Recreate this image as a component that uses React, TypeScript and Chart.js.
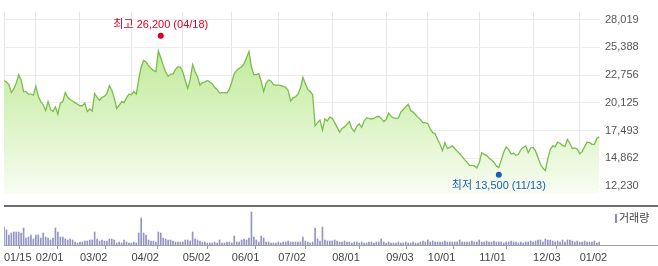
import React, { useEffect, useRef } from 'react';
import { Chart, registerables } from 'chart.js';

Chart.register(...registerables);

// Closing prices, one per trading day (2018-01-15 .. 2019-01-14)
const prices: number[] = [
  22250, 22100, 21850, 21100, 21450, 22000, 22800, 22300, 21200, 21200,
  20950, 20950, 20850, 21700, 20750, 20250, 19950, 19400, 20250, 19500,
  19300, 19750, 19050, 20100, 20250, 21100, 20650, 20450, 20300, 20150,
  20000, 19850, 19850, 20100, 19300, 19550, 19350, 21000, 20650, 20350,
  20650, 20750, 21000, 21750, 21350, 20600, 19600, 19900, 20250, 20150,
  20600, 20950, 20900, 21200, 20950, 22350, 23550, 24150, 24000, 23650,
  23400, 23200, 23100, 25050, 24400, 23700, 23050, 22650, 22850, 22850,
  23300, 23550, 23500, 23050, 22250, 21500, 22350, 23750, 23100, 22600,
  21800, 22050, 22100, 22250, 22100, 21950, 21600, 21400, 21050, 21100,
  21100, 21050, 21400, 22100, 22900, 23200, 23400, 23550, 23850, 24400,
  25000, 23550, 22800, 22800, 22900, 22150, 21200, 22000, 22300, 22200,
  21850, 21800, 21800, 21750, 21700, 21600, 21300, 20300, 20600, 20700,
  20950, 21500, 22550, 21950, 21400, 21200, 20900, 17950, 18250, 18500,
  17550, 18600, 18400, 18800, 18650, 18250, 17800, 17350, 17700, 17850,
  18100, 18350, 17700, 17400, 17900, 18150, 17800, 18400, 18700, 18650,
  18600, 18650, 18800, 18850, 18650, 18350, 18550, 19150, 18850, 18700,
  18650, 18700, 19250, 19500, 19750, 20000, 19400, 19250, 19000, 18750,
  18550, 18250, 18250, 18150, 17650, 17300, 17200, 16650, 16200, 15600,
  16350, 15800, 15900, 16050, 15800, 15550, 15300, 15050, 14750, 14500,
  14200, 14200, 14150, 13950, 14450, 15400, 15250, 15150, 14900, 14700,
  14500, 14150, 14000, 14700, 15450, 15950, 15700, 15300, 15350, 15150,
  15250, 15700, 15900, 16050, 15400, 15850, 15900, 15550, 14950, 14300,
  13950, 13700, 14850, 15700, 16050, 15950, 16400, 16300, 16100, 16000,
  16650, 16300, 15800, 15850, 15750, 15300, 15500, 15950, 16400, 16350,
  16200, 16200, 16750, 16900,
];

// Volume (thousand shares), one per trading day
const volumes: number[] = [
  900, 750, 500, 600, 650, 650, 650, 600, 850, 350,
  400, 500, 300, 500, 500, 350, 600, 400, 350, 250,
  350, 850, 650, 400, 400, 300, 250, 300, 250, 150,
  100, 150, 150, 200, 200, 250, 250, 650, 300, 200,
  250, 200, 200, 300, 300, 250, 100, 150, 100, 250,
  150, 100, 100, 150, 100, 600, 1350, 600, 500, 250,
  200, 200, 150, 650, 600, 350, 300, 250, 250, 200,
  150, 150, 150, 150, 250, 250, 200, 650, 300, 250,
  200, 150, 150, 100, 100, 100, 150, 100, 250, 100,
  100, 150, 150, 100, 450, 150, 150, 250, 300, 250,
  350, 1650, 400, 250, 150, 450, 350, 150, 150, 100,
  100, 100, 150, 100, 150, 150, 200, 150, 150, 150,
  150, 150, 400, 200, 150, 100, 150, 850, 300, 200,
  900, 250, 200,
  200, 200, 250, 200, 150, 150, 200, 150, 150, 100,
  150, 150, 100, 150, 100, 100, 150, 150, 100, 150,
  150, 300, 150, 100, 150, 100, 100, 100, 150, 100,
  100, 150, 100, 100, 150, 100, 100, 150, 200, 150,
  250, 150, 200, 150, 150, 150, 150, 200, 150, 150,
  150, 150, 150, 250, 150, 150, 150, 150, 200, 150,
  150, 250, 150, 150, 200, 150, 150, 200, 150, 150,
  150, 100, 150, 150, 200, 150, 150, 100, 150, 100,
  150, 150, 200, 150, 200, 250, 250, 150, 300, 250,
  250, 200, 150, 200, 150, 250, 150, 250, 250, 200,
  150, 200, 150, 150, 200, 150, 150, 150, 200, 100, 150,
];

// Month tick labels and the trading-day index they fall on
const tickLabels: string[] = ['01/15', '02/01', '03/02', '04/02', '05/02', '06/01', '07/02', '08/01', '09/03', '10/01', '11/01', '12/03', '01/02'];
const tickIndex: number[] = [0, 13, 31, 52, 73, 93, 112, 134, 156, 173, 194, 216, 235];

// Price axis tick values
const priceTicks: number[] = [12230, 14862, 17493, 20125, 22756, 25388, 28019];

const highMark = { index: 64, value: 26200, label: '최고 26,200 (04/18)' };
const lowMark = { index: 202, value: 13500, label: '최저 13,500 (11/13)' };

const FONT = '"Liberation Sans", "Noto Sans CJK KR", sans-serif';
const X_MAX = 243.3;

const markPlugin = {
  id: 'hiLoMarks',
  afterDatasetsDraw(chart: any) {
    const { ctx, scales } = chart;
    const xs = scales.x;
    const ys = scales.y;
    const draw = (m: any, color: string, dy: number, ty: number) => {
      const px = xs.getPixelForValue(m.index);
      const py = ys.getPixelForValue(m.value) + dy;
      ctx.save();
      ctx.fillStyle = color;
      ctx.beginPath();
      ctx.arc(px, py, 3, 0, Math.PI * 2);
      ctx.fill();
      ctx.font = `11px ${FONT}`;
      ctx.textAlign = 'center';
      ctx.textBaseline = 'middle';
      ctx.fillText(m.label, px, py + ty);
      ctx.restore();
    };
    draw(highMark, '#d7001e', -3, -11);
    draw(lowMark, '#1d5fb0', 2, 11);
  },
};

export default function App() {
  const priceRef = useRef<HTMLCanvasElement>(null);
  const volRef = useRef<HTMLCanvasElement>(null);

  useEffect(() => {
    const priceChart = new Chart(priceRef.current as HTMLCanvasElement, {
      type: 'line',
      data: {
        datasets: [
          {
            data: prices.map((v, i) => ({ x: i, y: v })),
            borderColor: '#79bd4b',
            borderWidth: 1.3,
            pointRadius: 0,
            tension: 0,
            fill: 'start',
            backgroundColor: (c: any) => {
              const area = c.chart.chartArea;
              if (!area) return '#d8f2c0';
              const g = c.chart.ctx.createLinearGradient(0, area.top, 0, area.bottom);
              g.addColorStop(0, '#b4e486');
              g.addColorStop(0.5, '#d5f1ba');
              g.addColorStop(1, '#f8fdf3');
              return g;
            },
          },
        ],
      },
      options: {
        animation: false,
        responsive: false,
        maintainAspectRatio: false,
        layout: { padding: { left: 4, right: 0, top: 0, bottom: 0 } },
        plugins: { legend: { display: false }, tooltip: { enabled: false } },
        scales: {
          x: {
            type: 'linear',
            min: 0,
            max: X_MAX,
            afterBuildTicks: (s: any) => {
              s.ticks = tickIndex.map((v) => ({ value: v }));
            },
            ticks: { display: false },
            grid: { color: '#e6e6e6', drawTicks: false },
            border: { display: false },
            afterFit: (s: any) => {
              s.height = 0;
            },
          },
          y: {
            position: 'right',
            min: 11450,
            max: 28776,
            afterBuildTicks: (s: any) => {
              s.ticks = priceTicks.map((v) => ({ value: v }));
            },
            ticks: {
              color: '#555',
              font: { size: 11, family: FONT },
              padding: 5,
              callback: (v: any) => Number(v).toLocaleString('en-US'),
            },
            grid: { color: '#ececec', drawTicks: false },
            border: { display: false },
            afterFit: (s: any) => {
              s.width = 58;
            },
          },
        },
      },
      plugins: [markPlugin],
    });

    const volChart = new Chart(volRef.current as HTMLCanvasElement, {
      type: 'bar',
      data: {
        datasets: [
          {
            data: volumes.map((v, i) => ({ x: i, y: v })),
            backgroundColor: '#9393c4',
            barThickness: 1,
          },
        ],
      },
      options: {
        animation: false,
        responsive: false,
        maintainAspectRatio: false,
        layout: { padding: { left: 4, right: 58, top: 0, bottom: 0 } },
        plugins: { legend: { display: false }, tooltip: { enabled: false } },
        scales: {
          x: {
            type: 'linear',
            min: 0,
            max: X_MAX,
            offset: false,
            afterBuildTicks: (s: any) => {
              s.ticks = tickIndex.map((v) => ({ value: v }));
            },
            ticks: {
              align: 'start',
              autoSkip: false,
              maxRotation: 0,
              color: '#444',
              font: { size: 11, family: FONT },
              padding: 2,
              callback: (_v: any, i: number) => tickLabels[i],
            },
            grid: { drawOnChartArea: false, drawTicks: true, tickLength: 4, color: '#999' },
            border: { display: false },
            afterFit: (s: any) => {
              s.height = 21;
            },
          },
          y: { display: false, min: 0, max: 1950 },
        },
      },
    });

    return () => {
      priceChart.destroy();
      volChart.destroy();
    };
  }, []);

  return (
    <div style={{ position: 'absolute', left: 0, top: 0, width: 658, height: 266, background: '#fff', overflow: 'hidden' }}>
      <canvas ref={priceRef} width={658} height={206} style={{ position: 'absolute', left: 0, top: 0, width: 658, height: 206 }} />
      <canvas ref={volRef} width={658} height={60} style={{ position: 'absolute', left: 0, top: 206, width: 658, height: 60 }} />
      <div style={{ position: 'absolute', left: 4, top: 205, width: 654, height: 2, background: '#6e6e6e' }} />
      <div style={{ position: 'absolute', left: 4, top: 245, width: 654, height: 1, background: '#a0a0a0' }} />
      <div
        style={{
          position: 'absolute',
          left: 615,
          top: 211,
          font: `11px ${FONT}`,
          color: '#444',
          lineHeight: '14px',
          whiteSpace: 'nowrap',
        }}
      >
        <span style={{ display: 'inline-block', width: 2, height: 9, background: '#8a8abb', marginRight: 2, verticalAlign: -1 }} />
        거래량
      </div>
    </div>
  );
}
